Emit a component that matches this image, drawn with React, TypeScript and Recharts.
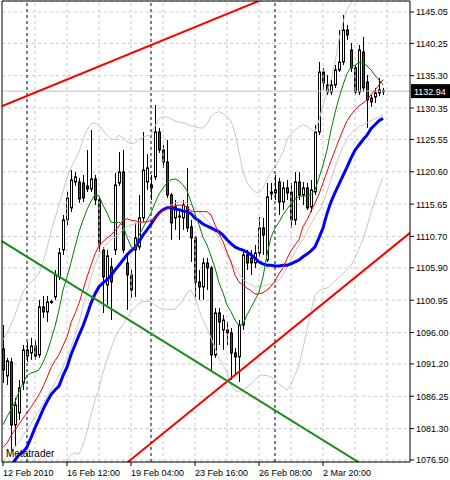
import React from 'react';
import { ComposedChart, Bar, Line, XAxis, YAxis, CartesianGrid, ReferenceLine } from 'recharts';

// H4 bars, 12 Feb 2010 .. 3 Mar 2010
const opens = [
  1093.49, 1089.36, 1091.5, 1081.86, 1083.7, 1088.29, 1092.42, 1092.88, 1093.95, 1092.57,
  1099.92, 1099.15, 1100.6, 1101.45, 1104.51, 1108.64, 1113.23, 1115.07, 1119.04, 1119.04,
  1118.89, 1118.43, 1117.97, 1119.5, 1116.29, 1108.64, 1103.28, 1106.04, 1108.64, 1118.89,
  1120.57, 1106.65, 1104.81, 1108.64, 1109.1, 1113.54, 1119.04, 1118.58, 1119.81, 1126.69,
  1123.94, 1122.1, 1117.05, 1113.54, 1113.69, 1113.54, 1115.22, 1112.16, 1110.48, 1103.74,
  1102.98, 1106.65, 1105.89, 1092.57, 1099.0, 1096.4, 1096.4, 1095.94, 1092.88, 1092.27,
  1097.16, 1107.87, 1107.42, 1106.65, 1108.18, 1112.01, 1107.11, 1117.21, 1117.36, 1119.04,
  1115.98, 1118.13, 1117.51, 1113.23, 1119.04, 1117.05, 1118.13, 1115.22, 1117.51, 1126.69,
  1135.87, 1133.88, 1132.81, 1133.88, 1136.18, 1137.4, 1142.3, 1139.24, 1136.49, 1132.81,
  1138.93, 1134.34, 1131.89, 1132.05, 1132.66, 1132.9,
];
const highs = [
  1097.16, 1092.12, 1092.12, 1086.0, 1088.75, 1094.1, 1094.56, 1095.18, 1094.87, 1100.99,
  1101.6, 1101.6, 1100.99, 1105.58, 1108.95, 1113.99, 1117.51, 1120.88, 1120.57, 1119.66,
  1120.11, 1123.94, 1127.0, 1120.11, 1116.6, 1109.1, 1108.64, 1107.42, 1120.42, 1123.63,
  1123.94, 1107.87, 1105.58, 1112.77, 1117.05, 1126.69, 1123.33, 1120.11, 1130.82, 1127.31,
  1124.7, 1125.47, 1117.36, 1116.29, 1114.76, 1116.29, 1121.19, 1113.23, 1110.78, 1105.58,
  1107.42, 1107.42, 1106.19, 1099.77, 1099.77, 1098.69, 1097.62, 1096.71, 1093.65, 1097.93,
  1108.64, 1108.64, 1108.64, 1109.4, 1113.69, 1113.54, 1118.89, 1118.89, 1120.11, 1119.66,
  1119.04, 1119.35, 1118.89, 1120.57, 1120.57, 1119.04, 1118.89, 1119.35, 1127.76, 1137.4,
  1136.49, 1135.41, 1134.65, 1136.94, 1142.3, 1144.59, 1143.06, 1140.31, 1136.94, 1140.0,
  1141.23, 1135.41, 1132.35, 1133.43, 1134.96, 1133.43,
];
const lows = [
  1088.29, 1087.98, 1077.73, 1078.5, 1082.63, 1087.22, 1091.5, 1091.81, 1091.81, 1092.12,
  1098.24, 1097.62, 1100.38, 1100.99, 1104.05, 1107.87, 1112.46, 1114.45, 1118.43, 1115.83,
  1115.98, 1117.51, 1117.51, 1115.52, 1108.33, 1099.0, 1100.22, 1097.93, 1107.87, 1118.43,
  1108.18, 1099.46, 1101.3, 1101.45, 1108.64, 1112.92, 1117.82, 1116.29, 1119.35, 1123.48,
  1121.19, 1116.6, 1110.17, 1111.7, 1110.17, 1111.7, 1111.39, 1106.8, 1101.45, 1100.99,
  1100.99, 1102.52, 1090.28, 1092.12, 1094.1, 1093.34, 1094.1, 1088.75, 1089.51, 1088.44,
  1096.4, 1105.58, 1104.81, 1105.89, 1107.57, 1107.87, 1106.8, 1116.29, 1116.29, 1113.99,
  1114.76, 1116.29, 1112.01, 1112.46, 1116.29, 1115.52, 1114.76, 1114.45, 1117.05, 1126.23,
  1133.12, 1132.35, 1132.35, 1133.43, 1135.87, 1136.94, 1140.77, 1135.87, 1132.35, 1132.35,
  1132.81, 1127.31, 1130.52, 1131.13, 1132.2, 1132.35,
];
const closes = [
  1090.28, 1091.66, 1081.86, 1084.92, 1087.53, 1093.34, 1093.34, 1093.95, 1092.42, 1099.92,
  1099.15, 1100.68, 1100.75, 1104.81, 1108.18, 1113.23, 1116.6, 1119.35, 1119.81, 1116.44,
  1116.6, 1117.97, 1119.5, 1116.29, 1109.4, 1104.51, 1107.72, 1103.74, 1118.58, 1120.57,
  1108.64, 1104.81, 1102.52, 1110.48, 1113.54, 1120.88, 1121.19, 1118.13, 1126.69, 1123.94,
  1122.1, 1117.05, 1112.77, 1115.22, 1113.84, 1115.52, 1112.01, 1110.48, 1103.74, 1102.98,
  1106.65, 1105.89, 1092.57, 1099.0, 1097.62, 1097.93, 1095.94, 1092.88, 1092.27, 1097.16,
  1107.87, 1106.65, 1106.65, 1108.18, 1112.01, 1110.93, 1116.75, 1117.51, 1117.82, 1115.98,
  1118.13, 1117.36, 1113.23, 1119.04, 1117.05, 1118.13, 1115.07, 1117.82, 1126.69, 1135.87,
  1134.19, 1132.81, 1133.88, 1136.18, 1137.4, 1142.3, 1141.53, 1136.49, 1132.81, 1139.24,
  1133.43, 1131.59, 1131.28, 1132.66, 1133.12, 1132.94,
];

// moving averages (green fast, red, blue thick slow)
const maFast = [
  1081.9, 1083.1, 1084.2, 1085.4, 1086.9, 1088.3, 1089.4, 1089.8, 1090.0, 1090.3,
  1091.4, 1092.9, 1094.9, 1096.9, 1099.5, 1102.5, 1104.5, 1106.7, 1109.1, 1111.4,
  1113.2, 1114.8, 1116.1, 1117.1, 1116.9, 1115.5, 1114.3, 1112.9, 1112.8, 1112.9,
  1112.3, 1110.6, 1109.1, 1108.8, 1110.9, 1112.0, 1113.2, 1114.3, 1115.8, 1117.2,
  1118.1, 1118.9, 1119.4, 1119.5, 1119.2, 1118.6, 1117.7, 1116.0, 1114.2, 1112.5,
  1110.6, 1109.4, 1107.7, 1105.9, 1103.6, 1102.1, 1100.2, 1099.2, 1097.9, 1097.0,
  1097.3, 1098.7, 1099.8, 1101.0, 1102.2, 1104.5, 1107.9, 1110.6, 1112.0, 1112.9,
  1114.0, 1114.9, 1115.7, 1116.4, 1116.8, 1116.9, 1116.9, 1117.1, 1117.8, 1119.7,
  1121.6, 1123.9, 1127.0, 1129.6, 1131.9, 1133.9, 1135.6, 1136.6, 1136.9, 1137.3,
  1137.3, 1136.8, 1136.2, 1135.3, 1134.7, 1133.9,
];
const maMid = [
  1078.4, 1079.1, 1080.2, 1081.1, 1082.0, 1082.9, 1083.7, 1084.6, 1085.5, 1086.5,
  1087.7, 1089.1, 1090.6, 1091.7, 1092.6, 1094.0, 1095.3, 1097.5, 1098.9, 1100.5,
  1102.5, 1104.5, 1106.3, 1108.0, 1109.3, 1109.9, 1110.5, 1110.9, 1111.6, 1112.3,
  1113.2, 1113.4, 1113.2, 1113.1, 1112.9, 1112.9, 1112.9, 1113.1, 1113.4, 1114.2,
  1114.6, 1114.9, 1115.2, 1115.4, 1115.5, 1115.5, 1115.2, 1114.6, 1114.5, 1114.5,
  1114.5, 1114.5, 1114.0, 1112.5, 1111.1, 1109.9, 1108.3, 1106.8, 1104.8, 1103.7,
  1103.3, 1102.8, 1102.4, 1101.9, 1101.9, 1102.1, 1102.5, 1103.1, 1103.9, 1105.0,
  1105.9, 1107.3, 1108.5, 1109.4, 1110.2, 1112.2, 1113.2, 1114.6, 1115.8, 1117.2,
  1118.9, 1120.6, 1122.3, 1123.9, 1125.5, 1127.0, 1128.4, 1129.3, 1130.1, 1130.7,
  1131.1, 1131.6, 1132.4, 1133.1, 1133.9, 1134.7,
];
const maSlow = [
  1074.2, 1075.0, 1075.6, 1076.5, 1077.3, 1077.7, 1078.5, 1079.9, 1081.4, 1082.8,
  1084.2, 1085.4, 1086.5, 1087.2, 1087.8, 1089.4, 1090.7, 1092.6, 1094.1, 1095.6,
  1097.0, 1098.7, 1100.5, 1101.9, 1103.0, 1103.6, 1104.1, 1104.7, 1105.6, 1106.3,
  1107.1, 1107.9, 1108.5, 1109.0, 1109.9, 1110.9, 1111.7, 1112.6, 1113.5, 1114.3,
  1114.8, 1115.1, 1115.1, 1114.9, 1114.8, 1114.6, 1114.5, 1114.2, 1113.5, 1113.1,
  1112.6, 1112.3, 1112.0, 1111.7, 1111.4, 1110.9, 1110.2, 1109.6, 1109.1, 1108.8,
  1108.6, 1108.3, 1107.9, 1107.4, 1106.8, 1106.5, 1106.3, 1106.3, 1106.2, 1106.2,
  1106.3, 1106.3, 1106.5, 1106.8, 1107.1, 1107.6, 1108.0, 1108.5, 1109.1, 1110.5,
  1112.0, 1114.2, 1116.0, 1117.4, 1118.7, 1120.0, 1121.3, 1122.7, 1123.9, 1124.7,
  1125.5, 1126.2, 1127.2, 1127.8, 1128.4, 1128.8,
];

// Bollinger bands (silver)
const bandMid = [
  1076.2, 1077.0, 1077.7, 1078.5, 1079.3, 1080.2, 1081.1, 1082.0, 1083.1, 1084.0,
  1085.1, 1086.2, 1087.2, 1088.3, 1089.4, 1090.7, 1092.1, 1093.7, 1095.5, 1097.6,
  1099.9, 1102.2, 1104.4, 1106.3, 1107.9, 1108.8, 1109.6, 1110.2, 1110.6, 1111.1,
  1111.7, 1112.2, 1112.5, 1112.6, 1112.8, 1112.9, 1113.1, 1113.4, 1113.7, 1114.2,
  1114.6, 1115.1, 1115.5, 1115.8, 1116.0, 1116.0, 1115.8, 1115.5, 1115.1, 1114.5,
  1113.8, 1113.2, 1112.5, 1111.4, 1110.2, 1109.1, 1107.9, 1106.8, 1105.9, 1105.0,
  1104.2, 1103.7, 1103.3, 1103.0, 1103.0, 1103.1, 1103.3, 1103.4, 1103.6, 1104.0,
  1104.8, 1105.9, 1107.1, 1108.3, 1109.4, 1110.2, 1111.4, 1112.6, 1113.7, 1114.6,
  1115.7, 1117.5, 1119.5, 1121.3, 1123.0, 1124.4, 1125.6, 1126.5, 1127.0, 1127.5,
  1127.8, 1128.1, 1128.4, 1128.7, 1129.0, 1129.3,
];
const bandUpper = [
  1094.9, 1095.9, 1097.2, 1098.7, 1100.5, 1102.2, 1103.1, 1103.7, 1104.4, 1105.0,
  1106.8, 1108.9, 1111.4, 1113.5, 1115.5, 1117.5, 1119.7, 1121.2, 1122.4, 1123.6,
  1125.5, 1127.0, 1127.9, 1128.1, 1127.6, 1127.0, 1126.2, 1125.6, 1125.5, 1126.2,
  1125.8, 1125.2, 1124.9, 1125.0, 1125.5, 1125.9, 1126.1, 1126.2, 1127.6, 1128.7,
  1129.0, 1129.0, 1128.7, 1128.4, 1128.2, 1128.1, 1127.9, 1127.6, 1127.5, 1127.3,
  1127.3, 1127.9, 1129.1, 1129.6, 1129.8, 1129.5, 1129.0, 1128.4, 1126.5, 1123.6,
  1120.6, 1119.0, 1118.1, 1117.5, 1117.4, 1118.1, 1119.4, 1120.6, 1121.5, 1122.4,
  1123.6, 1125.5, 1126.4, 1127.0, 1127.5, 1127.8, 1127.6, 1127.0, 1126.7, 1128.5,
  1130.8, 1132.8, 1134.7, 1137.4, 1140.8, 1143.5, 1145.4, 1146.4, 1148.1, 1149.2,
  1150.0, 1150.3, 1150.3, 1150.3, 1150.0, 1149.6,
];
const bandLower = [
  1061.2, 1060.4, 1059.7, 1060.0, 1060.9, 1062.0, 1063.5, 1065.8, 1067.3, 1068.9,
  1070.4, 1071.6, 1072.7, 1073.8, 1074.7, 1075.6, 1076.5, 1077.3, 1077.6, 1077.4,
  1078.8, 1080.8, 1083.4, 1085.7, 1087.5, 1089.8, 1091.8, 1093.6, 1095.2, 1096.4,
  1097.2, 1098.2, 1099.2, 1099.8, 1100.4, 1100.7, 1100.8, 1100.7, 1100.2, 1099.8,
  1099.6, 1099.6, 1099.5, 1099.6, 1100.2, 1101.0, 1102.1, 1102.5, 1101.3, 1099.5,
  1097.9, 1096.7, 1095.2, 1093.6, 1092.1, 1091.0, 1090.0, 1088.0, 1087.1, 1086.9,
  1087.2, 1087.7, 1088.1, 1088.7, 1089.4, 1089.5, 1089.4, 1089.2, 1088.7, 1088.1,
  1087.7, 1087.2, 1088.1, 1089.5, 1091.0, 1093.6, 1096.4, 1099.2, 1101.8, 1102.4,
  1102.7, 1102.8, 1103.3, 1103.9, 1104.4, 1105.0, 1105.6, 1106.3, 1107.4, 1108.8,
  1110.2, 1112.2, 1114.3, 1116.3, 1118.1, 1119.8,
];

// hand drawn trend lines: [bar index, price] at both ends
const trendRedUpper = [{ i: -1, p: 1130.45 }, { i: 65, p: 1147.0 }];
const trendRedLower = [{ i: 31, p: 1076.08 }, { i: 102, p: 1111.37 }];
const trendGreen = [{ i: -1, p: 1110.26 }, { i: 92, p: 1074.98 }];

const timeTicks = [0, 16, 32, 48, 64, 80];
const timeLabels = ['12 Feb 2010', '16 Feb 12:00', '19 Feb 04:00', '23 Feb 16:00', '26 Feb 08:00', '2 Mar 20:00'];
const priceTicks = [
  1076.5, 1081.3, 1086.25, 1091.2, 1096.0, 1100.95, 1105.9, 1110.7,
  1115.65, 1120.6, 1125.55, 1130.35, 1135.3, 1140.25, 1145.05,
];
const gridBars = [8, 16, 24, 32, 40, 48, 56, 64, 72, 80, 88, 96];
const weekBreaks = [6, 37, 68];
const lastPrice = 1132.94;

const X_DOMAIN: [number, number] = [-0.25, 101.75];
const Y_DOMAIN: [number, number] = [1076.19, 1146.73];
const FONT = '"Liberation Sans", Arial, sans-serif';

const data = opens.map((o, i) => ({
  i,
  open: o,
  high: highs[i],
  low: lows[i],
  close: closes[i],
  range: [lows[i], highs[i]],
  fast: maFast[i],
  mid: maMid[i],
  slow: maSlow[i],
  bbMid: bandMid[i],
  bbUp: bandUpper[i],
  bbLo: bandLower[i],
}));

const Candle = (props: any) => {
  const { x, y, width, height, payload } = props;
  if (!payload) return null;
  const { open, close, high, low } = payload;
  const top = Math.min(y, y + height);
  const h = Math.abs(height);
  const span = high - low || 1;
  const py = (p: number) => top + ((high - p) / span) * h;
  const cx = Math.round(x + width / 2) + 0.5;
  const bull = close >= open;
  const bTop = py(Math.max(open, close));
  const bBot = py(Math.min(open, close));
  return (
    <g>
      <line x1={cx} x2={cx} y1={top} y2={top + h} stroke="#000" strokeWidth={1} />
      <rect
        x={cx - 1}
        y={bTop}
        width={2}
        height={Math.max(bBot - bTop, 0.6)}
        fill={bull ? '#fff' : '#ff0000'}
        stroke="#000"
        strokeWidth={1}
      />
    </g>
  );
};

const TimeTick = (props: any) => {
  const { x, y, payload } = props;
  const idx = timeTicks.indexOf(payload.value);
  return (
    <text x={x} y={y + 9} textAnchor="start" fontSize={9} fontFamily={FONT} fill="#000">
      {idx >= 0 ? timeLabels[idx] : ''}
    </text>
  );
};

const PriceTick = (props: any) => {
  const { x, y, payload } = props;
  return (
    <text x={x} y={y + 3.5} textAnchor="start" fontSize={9} fontFamily={FONT} fill="#000">
      {Number(payload.value).toFixed(2)}
    </text>
  );
};

const PriceTag = (props: any) => {
  const vb = props.viewBox;
  if (!vb) return null;
  const left = vb.x + vb.width + 1;
  return (
    <g>
      <rect x={left} y={vb.y - 7} width={39} height={14} fill="#000" />
      <text x={left + 3} y={vb.y + 3.5} fontSize={9} fontFamily={FONT} fill="#fff">
        {lastPrice.toFixed(2)}
      </text>
    </g>
  );
};

export default function App() {
  return (
    <div style={{ position: 'absolute', left: 0, top: 0, width: 450, height: 480, background: '#fff' }}>
      <ComposedChart width={450} height={480} data={data} margin={{ top: 1, right: 0, bottom: 0, left: 2 }}>
        <CartesianGrid vertical={false} stroke="#c8c8c8" strokeDasharray="3 3" />
        {gridBars.map((k) => (
          <ReferenceLine key={'g' + k} x={k} stroke="#c8c8c8" strokeDasharray="3 3" />
        ))}
        {weekBreaks.map((k) => (
          <ReferenceLine key={'w' + k} x={k} stroke="#000" strokeDasharray="3 3" />
        ))}
        <ReferenceLine y={lastPrice} stroke="#c0c0c0" label={<PriceTag />} />
        <XAxis
          type="number"
          dataKey="i"
          domain={X_DOMAIN}
          allowDataOverflow
          ticks={timeTicks}
          interval={0}
          height={18}
          tickSize={4}
          tickMargin={1}
          stroke="#000"
          tick={<TimeTick />}
        />
        <YAxis
          orientation="right"
          domain={Y_DOMAIN}
          allowDataOverflow
          ticks={priceTicks}
          interval={0}
          width={40}
          tickSize={4}
          tickMargin={2}
          stroke="#000"
          tick={<PriceTick />}
        />
        <Line dataKey="bbUp" stroke="#c8c8c8" strokeWidth={1} dot={false} isAnimationActive={false} />
        <Line dataKey="bbLo" stroke="#c8c8c8" strokeWidth={1} dot={false} isAnimationActive={false} />
        <Line dataKey="bbMid" stroke="#c8c8c8" strokeWidth={1} dot={false} isAnimationActive={false} />
        <Bar dataKey="range" barSize={3} shape={<Candle />} isAnimationActive={false} />
        <Line dataKey="slow" stroke="#0000ff" strokeWidth={3} dot={false} isAnimationActive={false} />
        <Line dataKey="mid" stroke="#ff0000" strokeWidth={1} dot={false} isAnimationActive={false} />
        <Line dataKey="fast" stroke="#008000" strokeWidth={1} dot={false} isAnimationActive={false} />
        <ReferenceLine
          segment={trendRedUpper.map((d) => ({ x: d.i, y: d.p }))}
          stroke="#ff0000"
          strokeWidth={2}
          ifOverflow="hidden"
        />
        <ReferenceLine
          segment={trendRedLower.map((d) => ({ x: d.i, y: d.p }))}
          stroke="#ff0000"
          strokeWidth={2}
          ifOverflow="hidden"
        />
        <ReferenceLine
          segment={trendGreen.map((d) => ({ x: d.i, y: d.p }))}
          stroke="#1e8c1e"
          strokeWidth={2}
          ifOverflow="hidden"
        />
        <ReferenceLine x={X_DOMAIN[0]} stroke="#000" />
        <ReferenceLine y={Y_DOMAIN[1]} stroke="#000" />
      </ComposedChart>
      <div
        style={{
          position: 'absolute',
          left: 6,
          top: 449,
          fontFamily: FONT,
          fontSize: 10,
          color: '#000',
          lineHeight: '10px',
        }}
      >
        Metatrader
      </div>
    </div>
  );
}
